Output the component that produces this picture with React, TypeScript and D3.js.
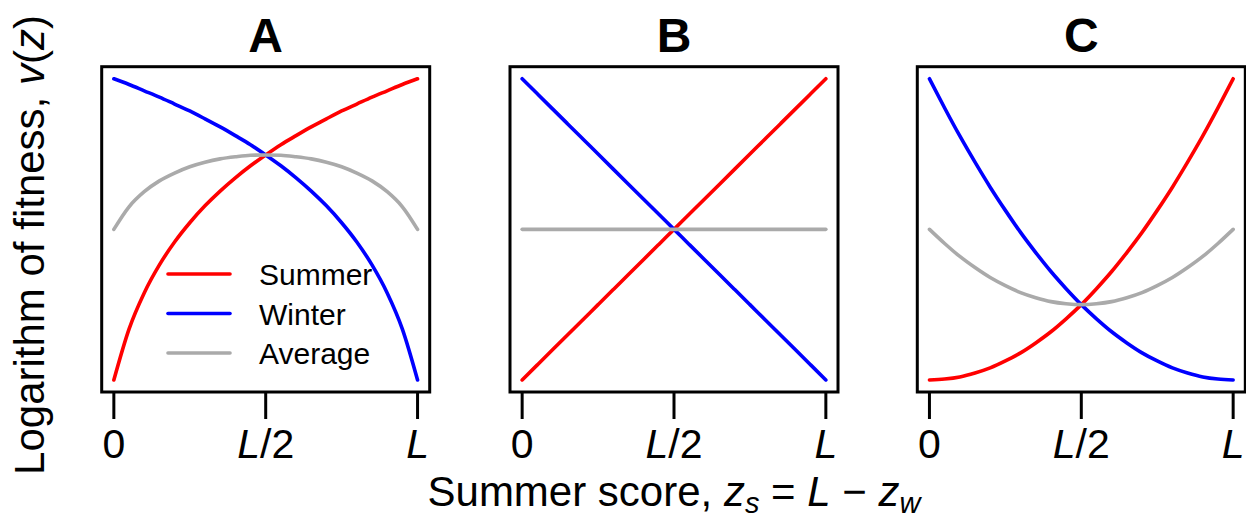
import * as d3 from "d3";

// summer score grid, as a fraction of L
const zGrid = [
  0, 0.05, 0.1, 0.15, 0.2, 0.25, 0.3, 0.35, 0.4, 0.45, 0.5,
  0.55, 0.6, 0.65, 0.7, 0.75, 0.8, 0.85, 0.9, 0.95, 1,
];

// log fitness (relative units)
const summerA = [
  0, 0.169, 0.289, 0.382, 0.458, 0.522, 0.578, 0.627, 0.671, 0.711, 0.747,
  0.781, 0.811, 0.84, 0.867, 0.893, 0.916, 0.939, 0.96, 0.981, 1,
];
const winterA = [...summerA].reverse();
const averageA = [
  0.5, 0.575, 0.625, 0.661, 0.687, 0.708, 0.723, 0.734, 0.741, 0.746, 0.747,
  0.746, 0.741, 0.734, 0.723, 0.708, 0.687, 0.661, 0.625, 0.575, 0.5,
];

const summerB = [
  0, 0.05, 0.1, 0.15, 0.2, 0.25, 0.3, 0.35, 0.4, 0.45, 0.5,
  0.55, 0.6, 0.65, 0.7, 0.75, 0.8, 0.85, 0.9, 0.95, 1,
];
const winterB = [...summerB].reverse();
const averageB = [
  0.5, 0.5, 0.5, 0.5, 0.5, 0.5, 0.5, 0.5, 0.5, 0.5, 0.5,
  0.5, 0.5, 0.5, 0.5, 0.5, 0.5, 0.5, 0.5, 0.5, 0.5,
];

const summerC = [
  0, 0.003, 0.01, 0.023, 0.04, 0.063, 0.09, 0.123, 0.16, 0.203, 0.25,
  0.303, 0.36, 0.423, 0.49, 0.563, 0.64, 0.723, 0.81, 0.903, 1,
];
const winterC = [...summerC].reverse();
const averageC = [
  0.5, 0.453, 0.41, 0.373, 0.34, 0.313, 0.29, 0.273, 0.26, 0.253, 0.25,
  0.253, 0.26, 0.273, 0.29, 0.313, 0.34, 0.373, 0.41, 0.453, 0.5,
];

const panelTitles = ["A", "B", "C"];
const tickValues = [0, 0.5, 1];
const tickLabels = [["0", ""], ["L", "/2"], ["L", ""]];
const legendLabels = ["Summer", "Winter", "Average"];

const panels = [
  { title: panelTitles[0], series: [summerA, winterA, averageA] },
  { title: panelTitles[1], series: [summerB, winterB, averageB] },
  { title: panelTitles[2], series: [summerC, winterC, averageC] },
];

const colors = ["#ff0000", "#0000ff", "#aaaaaa"];

const W = 1246;
const H = 522;
const panelLefts = [101.7, 510, 917.3];
const panelW = 328;
const boxTop = 66.7;
const boxBottom = 392;
const font = "'Liberation Sans', Arial, Helvetica, sans-serif";

const Panel = ({ left, title, series, legend }) => {
  const x = d3.scaleLinear().domain([-0.04, 1.04]).range([left, left + panelW]);
  const y = d3.scaleLinear().domain([-0.04, 1.04]).range([boxBottom, boxTop]);
  const line = d3
    .line<number>()
    .x((d, i) => x(zGrid[i]))
    .y((d) => y(d))
    .curve(d3.curveMonotoneX);

  return (
    <g>
      <text
        x={left + panelW / 2}
        y={52}
        textAnchor="middle"
        fontSize={48}
        fontWeight="bold"
        fontFamily={font}
      >
        {title}
      </text>
      {series.map((s, i) => (
        <path
          key={i}
          d={line(s) || ""}
          fill="none"
          stroke={colors[i]}
          strokeWidth={3.6}
          strokeLinecap="round"
        />
      ))}
      <rect
        x={left}
        y={boxTop}
        width={panelW}
        height={boxBottom - boxTop}
        fill="none"
        stroke="#000"
        strokeWidth={3}
      />
      {tickValues.map((t, i) => (
        <g key={i}>
          <line x1={x(t)} x2={x(t)} y1={boxBottom} y2={419} stroke="#000" strokeWidth={3} />
          <text x={x(t)} y={458} textAnchor="middle" fontSize={41} fontFamily={font}>
            {tickLabels[i][0] === "L" ? (
              <tspan fontStyle="italic">L</tspan>
            ) : (
              <tspan>{tickLabels[i][0]}</tspan>
            )}
            {tickLabels[i][1] && <tspan>{tickLabels[i][1]}</tspan>}
          </text>
        </g>
      ))}
      {legend &&
        legendLabels.map((lab, i) => {
          const ly = 274 + i * 39.5;
          return (
            <g key={lab}>
              <line
                x1={168}
                x2={230}
                y1={ly}
                y2={ly}
                stroke={colors[i]}
                strokeWidth={3.6}
                strokeLinecap="round"
              />
              <text x={259} y={ly + 11} fontSize={30} fontFamily={font}>
                {lab}
              </text>
            </g>
          );
        })}
    </g>
  );
};

export default function App() {
  return (
    <svg
      width={W}
      height={H}
      style={{ position: "absolute", left: 0, top: 0, background: "#fff" }}
    >
      {panels.map((p, i) => (
        <Panel key={p.title} left={panelLefts[i]} title={p.title} series={p.series} legend={i === 0} />
      ))}
      <text
        transform={`translate(44, 245) rotate(-90)`}
        textAnchor="middle"
        fontSize={42}
        fontFamily={font}
      >
        Logarithm of fitness, <tspan fontStyle="italic">v</tspan>(<tspan fontStyle="italic">z</tspan>)
      </text>
      <text x={674} y={506} textAnchor="middle" fontSize={42} fontFamily={font}>
        Summer score, <tspan fontStyle="italic">z</tspan>
        <tspan fontStyle="italic" fontSize={29} dy={7}>s</tspan>
        <tspan dy={-7}> = </tspan>
        <tspan fontStyle="italic">L</tspan>
        <tspan> − </tspan>
        <tspan fontStyle="italic">z</tspan>
        <tspan fontStyle="italic" fontSize={29} dy={7}>w</tspan>
      </text>
    </svg>
  );
}
